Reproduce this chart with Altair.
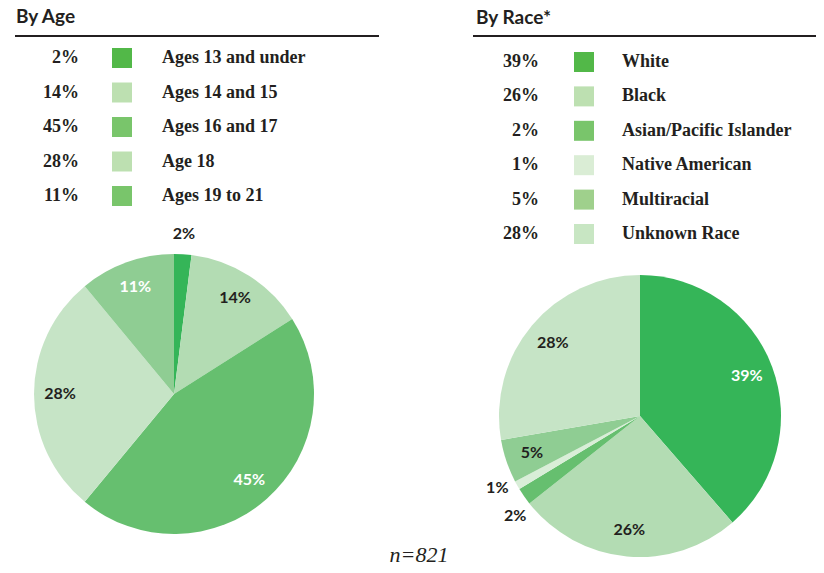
import altair as alt
import pandas as pd

# ---- data ----
age_cats = ["Ages 13 and under", "Ages 14 and 15", "Ages 16 and 17", "Age 18", "Ages 19 to 21"]
age_pct = [2, 14, 45, 28, 11]
race_cats = ["White", "Black", "Asian/Pacific Islander", "Native American", "Multiracial", "Unknown Race"]
race_pct = [39, 26, 2, 1, 5, 28]
n_label = "n=821"

# ---- styles ----
age_slice_colors = ["#35b558", "#b3dcb3", "#66bf6f", "#c6e4c6", "#8fcd93"]
age_key_colors = ["#52b848", "#bde0b1", "#79c56b", "#bde0b1", "#79c56b"]
race_slice_colors = ["#35b558", "#b3dcb3", "#66bf6f", "#d9eed8", "#8fcd93", "#c6e4c6"]
race_key_colors = ["#52b848", "#bde0b1", "#79c56b", "#daedd5", "#9fd08c", "#c8e6c3"]
white_label_cats = ["Ages 16 and 17", "Ages 19 to 21", "White"]
DARK = "#231f20"


def make_df(cats, pct):
    return pd.DataFrame({
        "cat": cats,
        "pct": pct,
        "idx": list(range(len(cats))),
        "label": [f"{p}%" for p in pct],
    })


def pie(df, cats, colors, cx, cy, r):
    base = alt.Chart(df)
    arcs = base.mark_arc(radius=r, strokeWidth=0).encode(
        x=alt.value(cx), y=alt.value(cy),
        theta=alt.Theta("pct:Q", stack=True),
        order=alt.Order("idx:Q"),
        color=alt.Color("cat:N", scale=alt.Scale(domain=cats, range=colors), legend=None),
    )
    # small neighbouring slices: spread their outside labels apart (degrees)
    nudge = ("datum.cat == 'Asian/Pacific Islander' ? -4 : "
             "datum.cat == 'Native American' ? 2.5 : 0")
    labels = base.transform_window(
        cum="sum(pct)", sort=[alt.SortField("idx")], frame=[None, 0]
    ).transform_joinaggregate(
        total="sum(pct)"
    ).transform_calculate(
        ang="(datum.cum - datum.pct / 2) / datum.total * 2 * PI + (%s) * PI / 180" % nudge,
        lr="datum.pct < 3 ? 160 : 114",
        tc="indexof(%s, datum.cat) >= 0 ? 'white' : '%s'" % (str(white_label_cats), DARK),
    ).mark_text(font="Lato", fontWeight="bold", fontSize=16,
                baseline="middle", align="center").encode(
        x=alt.value(cx), y=alt.value(cy),
        theta=alt.Theta("ang:Q", scale=None, stack=False),
        radius=alt.Radius("lr:Q", scale=None),
        text="label:N",
        color=alt.Color("tc:N", scale=None),
    )
    return [arcs, labels]


def key(df, cats, colors, x_pct, x_sw, x_lab, y0, y1):
    base = alt.Chart(df)
    y = alt.Y("cat:N", sort=cats,
              scale=alt.Scale(type="point", domain=cats, range=[y0, y1], padding=0),
              axis=None)
    pct = base.mark_text(align="right", baseline="middle", font="Liberation Serif",
                         fontWeight="bold", fontSize=18, color=DARK).encode(
        x=alt.value(x_pct), y=y, text="label:N")
    sw = base.mark_square(size=400, filled=True, opacity=1).encode(
        x=alt.value(x_sw), y=y,
        color=alt.Color("cat:N", scale=alt.Scale(domain=cats, range=colors), legend=None))
    lab = base.mark_text(align="left", baseline="middle", font="Liberation Serif",
                         fontWeight="bold", fontSize=18, color=DARK).encode(
        x=alt.value(x_lab), y=y, text="cat:N")
    return [pct, sw, lab]


def title(text, x, y):
    return alt.Chart(pd.DataFrame({"t": [text]})).mark_text(
        align="left", baseline="alphabetic", font="Lato", fontWeight="bold",
        fontSize=19, color=DARK).encode(x=alt.value(x), y=alt.value(y), text="t:N")


def rule(x1, x2, y):
    return alt.Chart(pd.DataFrame({"a": [0]})).mark_rule(
        color=DARK, strokeWidth=2).encode(x=alt.value(x1), x2=alt.value(x2), y=alt.value(y))


age_df = make_df(age_cats, age_pct)
race_df = make_df(race_cats, race_pct)

layers = []
layers += [title("By Age", 8, 15), rule(7, 371, 28)]
layers += [title("By Race*", 468, 16), rule(465, 808, 28)]
layers += key(age_df, age_cats, age_key_colors, 71, 114, 154, 50, 188)
layers += key(race_df, race_cats, race_key_colors, 531, 576, 614, 54, 226)
layers += pie(age_df, age_cats, age_slice_colors, 166, 386, 140)
layers += pie(race_df, race_cats, race_slice_colors, 632, 408, 141)
layers.append(
    alt.Chart(pd.DataFrame({"t": [n_label]})).mark_text(
        align="center", baseline="alphabetic", font="Liberation Serif",
        fontStyle="italic", fontSize=22, color=DARK).encode(
        x=alt.value(411), y=alt.value(554), text="t:N")
)

chart = alt.layer(*layers).resolve_scale(
    color="independent", theta="independent", y="independent"
).properties(
    width=808, height=557,
    autosize=alt.AutoSizeParams(type="none"),
    padding=0,
).configure_view(stroke=None)

chart.save("out.html", embed_options={"renderer": "svg", "actions": False})
